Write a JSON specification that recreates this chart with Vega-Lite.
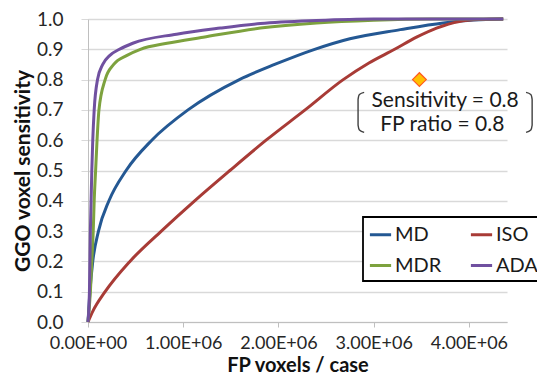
{
  "$schema": "https://vega.github.io/schema/vega-lite/v6.json",
  "width": 419,
  "height": 303,
  "autosize": {"type": "none"},
  "padding": {"left": 88, "top": 19, "right": 30, "bottom": 56},
  "background": "white",
  "config": {
    "font": "Lato",
    "view": {"stroke": null},
    "legend": {"strokeWidth": 1.8}
  },
  "datasets": {
    "curves": [
      {"method": "MD", "x": 0, "y": 0},
      {"method": "MD", "x": 20000, "y": 0.1},
      {"method": "MD", "x": 50000, "y": 0.2},
      {"method": "MD", "x": 110000, "y": 0.3},
      {"method": "MD", "x": 220000, "y": 0.4},
      {"method": "MD", "x": 400000, "y": 0.5},
      {"method": "MD", "x": 670000, "y": 0.6},
      {"method": "MD", "x": 1050000, "y": 0.7},
      {"method": "MD", "x": 1590000, "y": 0.8},
      {"method": "MD", "x": 1960000, "y": 0.85},
      {"method": "MD", "x": 2380000, "y": 0.9},
      {"method": "MD", "x": 2750000, "y": 0.935},
      {"method": "MD", "x": 3280000, "y": 0.965},
      {"method": "MD", "x": 3730000, "y": 0.987},
      {"method": "MD", "x": 4050000, "y": 0.997},
      {"method": "MD", "x": 4360000, "y": 1.0},
      {"method": "ISO", "x": 0, "y": 0},
      {"method": "ISO", "x": 50000, "y": 0.035},
      {"method": "ISO", "x": 180000, "y": 0.1},
      {"method": "ISO", "x": 440000, "y": 0.2},
      {"method": "ISO", "x": 770000, "y": 0.3},
      {"method": "ISO", "x": 1120000, "y": 0.4},
      {"method": "ISO", "x": 1490000, "y": 0.5},
      {"method": "ISO", "x": 1870000, "y": 0.6},
      {"method": "ISO", "x": 2280000, "y": 0.7},
      {"method": "ISO", "x": 2680000, "y": 0.8},
      {"method": "ISO", "x": 2950000, "y": 0.855},
      {"method": "ISO", "x": 3220000, "y": 0.9},
      {"method": "ISO", "x": 3450000, "y": 0.94},
      {"method": "ISO", "x": 3660000, "y": 0.97},
      {"method": "ISO", "x": 3900000, "y": 0.992},
      {"method": "ISO", "x": 4100000, "y": 0.998},
      {"method": "ISO", "x": 4360000, "y": 1.0},
      {"method": "MDR", "x": 0, "y": 0},
      {"method": "MDR", "x": 25000, "y": 0.1},
      {"method": "MDR", "x": 40000, "y": 0.2},
      {"method": "MDR", "x": 55000, "y": 0.3},
      {"method": "MDR", "x": 65000, "y": 0.4},
      {"method": "MDR", "x": 80000, "y": 0.5},
      {"method": "MDR", "x": 95000, "y": 0.6},
      {"method": "MDR", "x": 115000, "y": 0.7},
      {"method": "MDR", "x": 180000, "y": 0.8},
      {"method": "MDR", "x": 270000, "y": 0.85},
      {"method": "MDR", "x": 410000, "y": 0.88},
      {"method": "MDR", "x": 550000, "y": 0.9},
      {"method": "MDR", "x": 830000, "y": 0.92},
      {"method": "MDR", "x": 1210000, "y": 0.94},
      {"method": "MDR", "x": 1810000, "y": 0.97},
      {"method": "MDR", "x": 2400000, "y": 0.987},
      {"method": "MDR", "x": 3000000, "y": 0.996},
      {"method": "MDR", "x": 3600000, "y": 1.0},
      {"method": "MDR", "x": 4360000, "y": 1.0},
      {"method": "ADA", "x": 0, "y": 0},
      {"method": "ADA", "x": 15000, "y": 0.1},
      {"method": "ADA", "x": 25000, "y": 0.3},
      {"method": "ADA", "x": 40000, "y": 0.5},
      {"method": "ADA", "x": 50000, "y": 0.6},
      {"method": "ADA", "x": 65000, "y": 0.7},
      {"method": "ADA", "x": 100000, "y": 0.8},
      {"method": "ADA", "x": 155000, "y": 0.85},
      {"method": "ADA", "x": 230000, "y": 0.88},
      {"method": "ADA", "x": 330000, "y": 0.9},
      {"method": "ADA", "x": 470000, "y": 0.92},
      {"method": "ADA", "x": 930000, "y": 0.95},
      {"method": "ADA", "x": 1390000, "y": 0.97},
      {"method": "ADA", "x": 1810000, "y": 0.985},
      {"method": "ADA", "x": 2400000, "y": 0.995},
      {"method": "ADA", "x": 3000000, "y": 1.0},
      {"method": "ADA", "x": 4360000, "y": 1.0}
    ],
    "brackets": [
      {"side": "L", "k": 1, "x": 2900000, "y": 0.758},
      {"side": "L", "k": 2, "x": 2850000, "y": 0.751},
      {"side": "L", "k": 3, "x": 2836000, "y": 0.735},
      {"side": "L", "k": 4, "x": 2836000, "y": 0.65},
      {"side": "L", "k": 5, "x": 2850000, "y": 0.634},
      {"side": "L", "k": 6, "x": 2900000, "y": 0.626},
      {"side": "R", "k": 1, "x": 4600000, "y": 0.758},
      {"side": "R", "k": 2, "x": 4650000, "y": 0.751},
      {"side": "R", "k": 3, "x": 4664000, "y": 0.735},
      {"side": "R", "k": 4, "x": 4664000, "y": 0.65},
      {"side": "R", "k": 5, "x": 4650000, "y": 0.634},
      {"side": "R", "k": 6, "x": 4600000, "y": 0.626}
    ],
    "marker": [{"x": 3480000, "y": 0.8}],
    "notes": [
      {"x": 3750000, "y": 0.729, "label": "Sensitivity = 0.8"},
      {"x": 3720000, "y": 0.651, "label": "FP ratio = 0.8"}
    ]
  },
  "encoding": {
    "x": {
      "field": "x", "type": "quantitative",
      "scale": {"domain": [0, 4400000], "nice": false, "zero": true},
      "axis": {
        "values": [0, 1000000, 2000000, 3000000, 4000000],
        "labelExpr": "datum.value == 0 ? '0.00E+00' : format(datum.value / 1000000, '.2f') + 'E+06'",
        "title": "FP voxels / case",
        "grid": false,
        "domainColor": "#BFBFBF",
        "tickColor": "#BFBFBF",
        "tickSize": 5,
        "labelFontSize": 18,
        "labelColor": "#262626",
        "labelPadding": 7,
        "labelFlush": false,
        "labelOverlap": false,
        "titleFontSize": 20,
        "titleFontWeight": "bold",
        "titleColor": "#111111",
        "titlePadding": 3
      }
    },
    "y": {
      "field": "y", "type": "quantitative",
      "scale": {"domain": [0, 1], "nice": false},
      "axis": {
        "values": [0, 0.1, 0.2, 0.3, 0.4, 0.5, 0.6, 0.7, 0.8, 0.9, 1.0],
        "format": ".1f",
        "title": "GGO voxel sensitivity",
        "grid": true,
        "gridColor": "#D9D9D9",
        "gridWidth": 1.3,
        "domainColor": "#BFBFBF",
        "tickColor": "#D9D9D9",
        "tickSize": 7,
        "labelFontSize": 19,
        "labelColor": "#262626",
        "labelPadding": 18,
        "labelFlush": false,
        "labelOverlap": false,
        "titleFontSize": 21,
        "titleFontWeight": "bold",
        "titleColor": "#111111",
        "titlePadding": 3
      }
    }
  },
  "layer": [
    {
      "data": {"name": "curves"},
      "mark": {"type": "line", "strokeWidth": 3, "interpolate": "monotone"},
      "encoding": {
        "color": {
          "field": "method", "type": "nominal",
          "scale": {"domain": ["MD", "ISO", "MDR", "ADA"], "range": ["#245893", "#A83B36", "#7DA23E", "#7050A0"]},
          "legend": {
            "title": null,
            "orient": "none",
            "legendX": 275,
            "legendY": 198,
            "columns": 2,
            "direction": "horizontal",
            "symbolType": "stroke",
            "symbolStrokeWidth": 3,
            "symbolSize": 450,
            "labelFontSize": 20,
            "labelColor": "#1a1a1a",
            "labelOffset": 2,
            "strokeColor": "black",
            "fillColor": "white",
            "padding": 5,
            "columnPadding": 22,
            "rowPadding": 8
          }
        },
        "order": {"field": "x", "type": "quantitative"}
      }
    },
    {
      "data": {"name": "brackets"},
      "mark": {"type": "line", "strokeWidth": 1.4, "color": "#404040", "interpolate": "monotone"},
      "encoding": {
        "detail": {"field": "side"},
        "order": {"field": "k", "type": "quantitative"}
      }
    },
    {
      "data": {"name": "marker"},
      "mark": {"type": "point", "shape": "diamond", "filled": true, "size": 190, "fill": "#FFC000", "stroke": "#FF5A1F", "strokeWidth": 1.2, "opacity": 1},
      "encoding": {}
    },
    {
      "data": {"name": "notes"},
      "mark": {"type": "text", "fontSize": 21, "color": "#1a1a1a", "align": "center", "baseline": "middle"},
      "encoding": {
        "text": {"field": "label"}
      }
    }
  ]
}
